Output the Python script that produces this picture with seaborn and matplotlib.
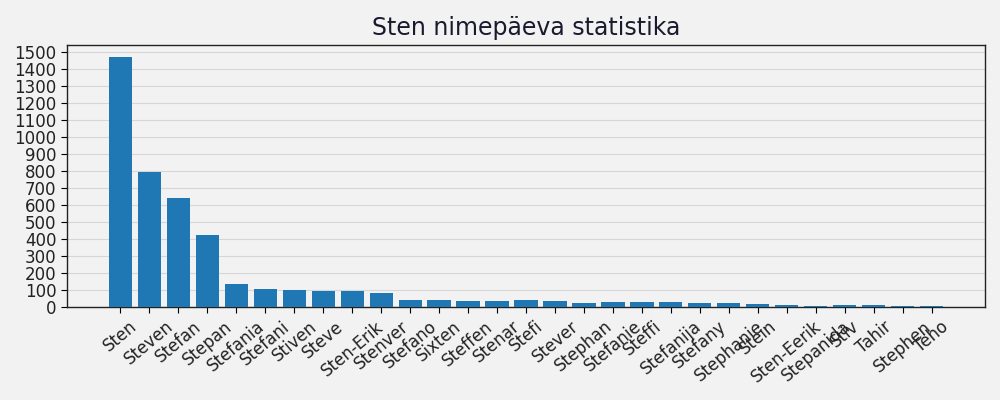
import matplotlib
matplotlib.use("Agg")
import matplotlib.pyplot as plt
import seaborn as sns
import pandas as pd

names = ["Sten", "Steven", "Stefan", "Stepan", "Stefania", "Stefani", "Stiven",
         "Steve", "Sten-Erik", "Stenver", "Stefano", "Sixten", "Steffen", "Stenar",
         "Stefi", "Stever", "Stephan", "Stefanie", "Steffi", "Stefanija", "Stefany",
         "Stephanie", "Stein", "Sten-Eerik", "Stepanida", "Stiv", "Tahir", "Stephen", "Teho"]
counts = [1472, 795, 640, 422, 135, 105, 100, 95, 95, 82, 41, 41, 35, 35,
          41, 35, 23, 29, 29, 29, 23, 23, 17, 12, 6, 12, 12, 6, 6]

df = pd.DataFrame({"name": names, "count": counts})

sns.set_style("white")
bg = "#f2f2f2"
fig = plt.figure(figsize=(10, 4), dpi=100, facecolor=bg)
ax = fig.add_axes([0.067, 0.2325, 0.918, 0.655])
ax.set_facecolor(bg)

sns.barplot(data=df, x="name", y="count", color="#1f77b4", saturation=1,
            width=0.8, ax=ax, zorder=3, linewidth=0, edgecolor="none")

ax.set_xlim(-1.84, 29.84)
ax.set_ylim(0, 1542)
ax.set_yticks(range(0, 1501, 100))
ax.grid(axis="y", color="#d6d6d6", linewidth=0.8, zorder=0)
ax.set_axisbelow(True)
ax.set_xlabel("")
ax.set_ylabel("")
ax.tick_params(axis="both", labelsize=12, labelcolor="#222222", length=4,
               direction="out", bottom=True, left=True, color="black")
plt.setp(ax.get_xticklabels(), rotation=40, ha="center")
for s in ax.spines.values():
    s.set_color("#222222")
    s.set_linewidth(1)

ax.set_title("Sten nimepäeva statistika", fontsize=17, color="#1a1a2e", pad=7)

fig.savefig("out.png", dpi=100, facecolor=bg)
